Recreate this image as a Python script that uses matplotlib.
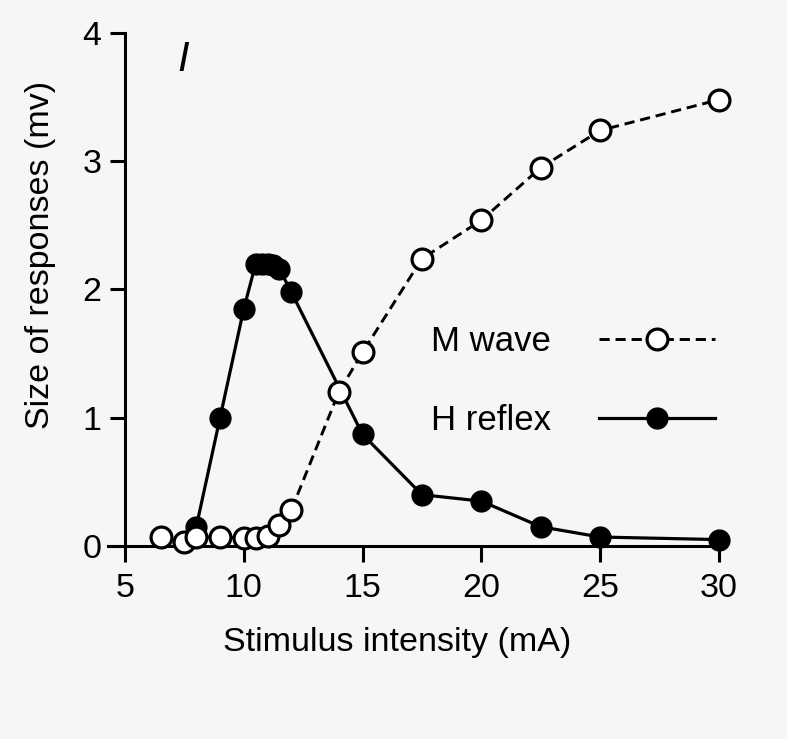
import matplotlib
matplotlib.use("Agg")
import matplotlib.pyplot as plt

plt.rcParams['font.family'] = ['Liberation Sans', 'DejaVu Sans']

# Data
m_x = [6.5, 7.5, 8, 9, 10, 10.5, 11, 11.5, 12, 14, 15, 17.5, 20, 22.5, 25, 30]
m_y = [0.07, 0.03, 0.07, 0.07, 0.06, 0.06, 0.08, 0.16, 0.28, 1.20, 1.51, 2.24, 2.54, 2.95, 3.24, 3.48]

h_x = [8, 9, 10, 10.5, 10.75, 11, 11.25, 11.5, 12, 15, 17.5, 20, 22.5, 25, 30]
h_y = [0.15, 1.0, 1.85, 2.2, 2.2, 2.2, 2.19, 2.16, 1.98, 0.87, 0.40, 0.35, 0.15, 0.07, 0.05]

x_ticks = [5, 10, 15, 20, 25, 30]
y_ticks = [0, 1, 2, 3, 4]

W, H = 787, 739
FS = 24.5
fig = plt.figure(figsize=(W / 100, H / 100), dpi=100, facecolor='#f6f6f6')
ax = fig.add_axes([108.4 / W, (H - 546) / H, (726 - 108.4) / W, 513 / H])
ax.set_facecolor('#f6f6f6')

ax.set_xlim(4.3, 30.3)
ax.set_ylim(0, 4)

ax.plot(h_x, h_y, color='black', lw=2.3, marker='o', ms=15, mfc='black',
        mec='black', clip_on=False, zorder=3, label='H reflex')
ax.plot(m_x, m_y, color='black', lw=2.1, ls=(0, (3.5, 2)), marker='o', ms=15,
        mfc='white', mec='black', mew=2.3, clip_on=False, zorder=4, label='M wave')

for s in ['top', 'right']:
    ax.spines[s].set_visible(False)
ax.spines['left'].set_position(('data', 5))
ax.spines['left'].set_linewidth(2.2)
ax.spines['bottom'].set_linewidth(2.2)

ax.set_xticks(x_ticks)
ax.set_yticks(y_ticks)
ax.tick_params(axis='both', direction='out', width=2.2, labelsize=FS)
ax.tick_params(axis='x', length=11.5, pad=8)
ax.tick_params(axis='y', length=11, pad=6)

ax.set_xlabel('Stimulus intensity (mA)', fontsize=FS)
ax.xaxis.set_label_coords(0.468, -0.158)
ax.set_ylabel('Size of responses (mv)', fontsize=FS)
ax.yaxis.set_label_coords(-0.085, 0.567)

ax.text(183 / W, 1 - 60 / H, 'I', transform=fig.transFigure, fontsize=30,
        fontstyle='italic', ha='center', va='center')

handles, labels = ax.get_legend_handles_labels()
leg = ax.legend(handles[::-1], labels[::-1], loc='center left',
                bbox_to_anchor=(431 / W, 1 - 381 / H), bbox_transform=fig.transFigure,
                frameon=False, fontsize=25, markerfirst=False, numpoints=1,
                handlelength=3.34, handletextpad=1.38, labelspacing=1.34,
                borderpad=0, borderaxespad=0)

fig.savefig('out.png', dpi=100, facecolor=fig.get_facecolor())
